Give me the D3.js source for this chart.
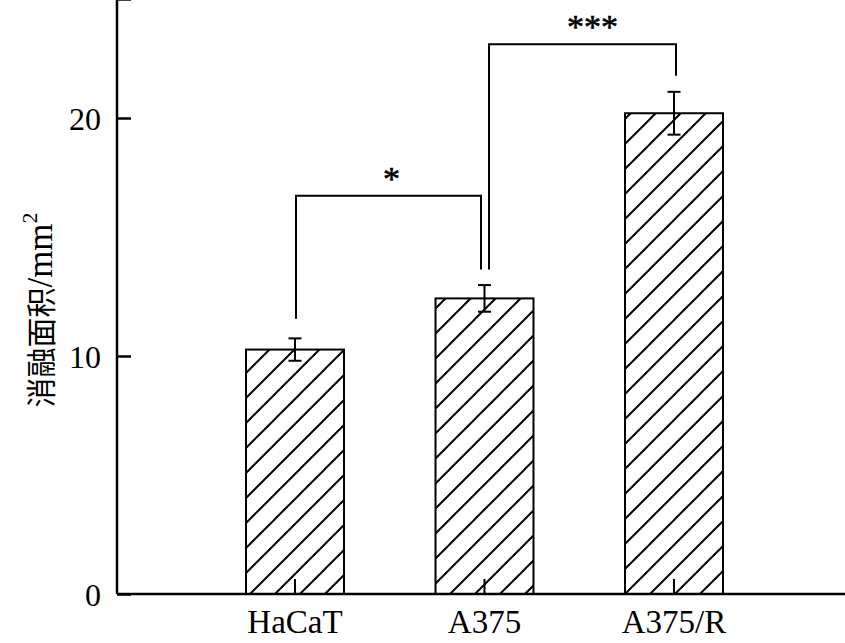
<!DOCTYPE html>
<html><head><meta charset="utf-8">
<script src="https://cdn.jsdelivr.net/npm/d3@7/dist/d3.min.js"></script>
<style>body{margin:0;background:#fff}svg{display:block}</style>
</head><body>
<svg id="c" width="845" height="643"></svg>
<script>
const categories = ["HaCaT", "A375", "A375/R"];
const values = [10.27, 12.42, 20.2];
const errors = [0.47, 0.56, 0.9];
const yTicks = [0, 10, 20];
const yTickMarks = [0, 10, 20, 25];
const brackets = [
  {from: "HaCaT", to: "A375", top: 16.73, fromEnd: 11.57, toEnd: 13.63, label: "*"},
  {from: "A375", to: "A375/R", top: 23.1, fromEnd: 13.63, toEnd: 21.77, label: "***"}
];
const yLabelCJK = "消融面积";
const yLabelUnit = "/mm";
const yLabelSup = "2";

const svg = d3.select("#c");
const FONT = "'Liberation Serif', 'Times New Roman', serif";

const x = d3.scaleBand().domain(categories).range([200.25, 768.75]).paddingInner(0.483).paddingOuter(0.2415);
const y = d3.scaleLinear().domain([0, 25]).range([594, -1]);

// hatch pattern
const defs = svg.append("defs");
const pat = defs.append("pattern").attr("id", "hatch").attr("patternUnits", "userSpaceOnUse")
  .attr("width", 25).attr("height", 25).attr("x", 0).attr("y", 594);
pat.append("path").attr("d", "M-5,5 L5,-5 M0,25 L25,0 M20,30 L30,20")
  .attr("stroke", "#000").attr("stroke-width", 2).attr("fill", "none");

// bars
svg.append("g").selectAll("rect").data(categories).join("rect")
  .attr("x", d => x(d)).attr("width", x.bandwidth())
  .attr("y", (d, i) => y(values[i])).attr("height", (d, i) => y(0) - y(values[i]))
  .attr("fill", "url(#hatch)").attr("stroke", "#000").attr("stroke-width", 2);

// error bars
const eg = svg.append("g").attr("stroke", "#000").attr("stroke-width", 2);
categories.forEach((c, i) => {
  const cx = x(c) + x.bandwidth() / 2;
  const t = y(values[i] + errors[i]), b = y(values[i] - errors[i]);
  eg.append("line").attr("x1", cx).attr("x2", cx).attr("y1", t).attr("y2", b);
  eg.append("line").attr("x1", cx - 6.5).attr("x2", cx + 6.5).attr("y1", t).attr("y2", t);
  eg.append("line").attr("x1", cx - 6.5).attr("x2", cx + 6.5).attr("y1", b).attr("y2", b);
});

// y axis
const yAxis = svg.append("g").attr("transform", "translate(117,0)")
  .call(d3.axisRight(y).tickValues(yTickMarks).tickSize(14).tickFormat(""));
yAxis.select(".domain").attr("stroke-width", 2.5).attr("d", `M0,${y(25)}V${y(0)}`);
yAxis.selectAll(".tick line").attr("stroke-width", 2.5);
svg.append("g").selectAll("text").data(yTicks).join("text")
  .attr("x", 101).attr("y", d => y(d)).attr("dy", "0.36em")
  .attr("text-anchor", "end").attr("font-family", FONT).attr("font-size", 32)
  .text(d => d);

// x axis
const xAxis = svg.append("g").attr("transform", `translate(0,${y(0)})`)
  .call(d3.axisBottom(x).tickSize(-15).tickSizeOuter(0).tickFormat(""));
xAxis.select(".domain").attr("stroke-width", 2.5).attr("d", "M117,0H845");
xAxis.selectAll(".tick line").attr("stroke-width", 2);
svg.append("g").selectAll("text").data(categories).join("text")
  .attr("x", d => x(d) + x.bandwidth() / 2).attr("y", 633)
  .attr("text-anchor", "middle").attr("font-family", FONT).attr("font-size", 33)
  .text(d => d);

// significance brackets
const bg = svg.append("g");
brackets.forEach((br, i) => {
  const shiftFrom = brackets.some(o => o !== br && o.to === br.from) ? 4.5 : 1;
  const shiftTo = brackets.some(o => o !== br && o.from === br.to) ? -3.5 : 2;
  const x1 = x(br.from) + x.bandwidth() / 2 + shiftFrom;
  const x2 = x(br.to) + x.bandwidth() / 2 + shiftTo;
  bg.append("path")
    .attr("d", `M${x1},${y(br.fromEnd)}V${y(br.top)}H${x2}V${y(br.toEnd)}`)
    .attr("fill", "none").attr("stroke", "#000").attr("stroke-width", 2);
  bg.append("text").attr("x", (x1 + x2) / 2 + (i === 0 ? 3 : 10)).attr("y", y(br.top) - 6)
    .attr("text-anchor", "middle").attr("font-family", FONT).attr("font-size", 34)
    .attr("stroke", "#000").attr("stroke-width", 0.6)
    .text(br.label);
});

// y label
const yl = svg.append("text").attr("transform", "translate(52,310) rotate(-90)")
  .attr("text-anchor", "middle").attr("font-family", "'Liberation Serif', 'Noto Sans CJK SC', serif");
yl.append("tspan").attr("font-size", 30).attr("font-family", "'Noto Sans CJK SC', sans-serif").attr("font-weight", 400).text(yLabelCJK);
yl.append("tspan").attr("font-size", 35).text(yLabelUnit);
yl.append("tspan").attr("dy", -15).attr("font-size", 22).text(yLabelSup);
</script>
</body></html>
